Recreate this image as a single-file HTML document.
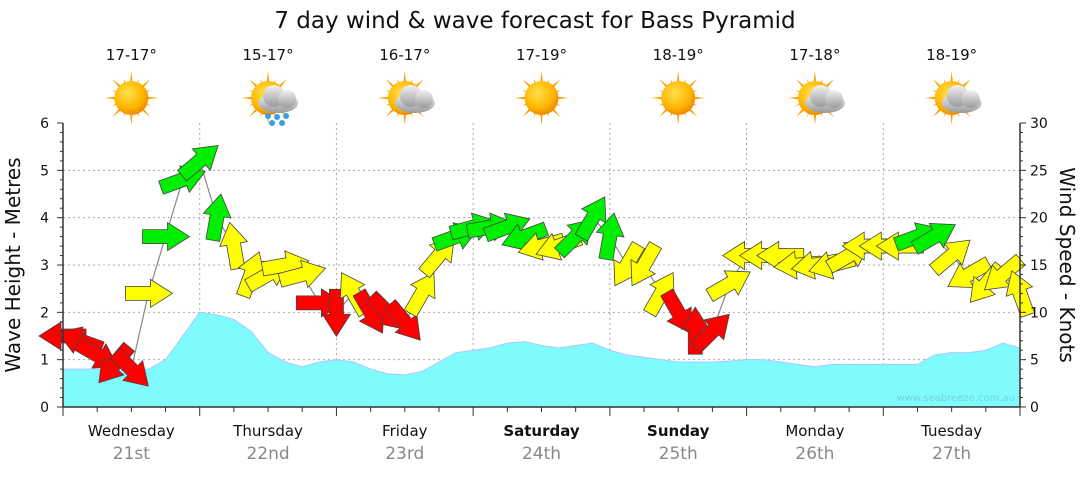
<!DOCTYPE html>
<html><head><meta charset="utf-8"><style>
body{margin:0;background:#fff;font-family:"Liberation Sans","DejaVu Sans",sans-serif;}
svg text{font-family:"DejaVu Sans","Liberation Sans",sans-serif;}
</style></head><body>
<svg id="chart" width="1080" height="475" xmlns="http://www.w3.org/2000/svg">
<defs>
<radialGradient id="sunG" cx="40%" cy="35%" r="65%"><stop offset="0" stop-color="#ffe14a"/><stop offset="0.7" stop-color="#ffb400"/><stop offset="1" stop-color="#f08c00"/></radialGradient>
<linearGradient id="cloudG" x1="0" y1="0" x2="0" y2="1"><stop offset="0" stop-color="#f2f2f2"/><stop offset="1" stop-color="#9a9a9a"/></linearGradient>
</defs>
<text x="535" y="28" text-anchor="middle" font-size="23" fill="#111">7 day wind &amp; wave forecast for Bass Pyramid</text>
<g id="grid"></g>
<g id="wave"></g>
<g id="wind"></g>
<g id="axes"></g>
<g id="topicons"></g>
<text x="1015" y="401" text-anchor="end" font-size="10" fill="#6cd6e0">www.seabreeze.com.au</text>
<text transform="translate(20,265) rotate(-90)" text-anchor="middle" font-size="20" fill="#111">Wave Height - Metres</text>
<text transform="translate(1060,265) rotate(90)" text-anchor="middle" font-size="20" fill="#111">Wind Speed - Knots</text>
</svg>
<script>
const days=["Wednesday","Thursday","Friday","Saturday","Sunday","Monday","Tuesday"];
const dates=["21st","22nd","23rd","24th","25th","26th","27th"];
const boldDays=[false,false,false,true,true,false,false];
const temps=["17-17°","15-17°","16-17°","17-19°","18-19°","17-18°","18-19°"];
const icons=["sun","rain","cloud","sun","sun","cloud","cloud"];
const waveTicks=[0,1,2,3,4,5,6];
const windTicks=[0,5,10,15,20,25,30];
const waveHeights=[0.8,0.8,0.8,0.78,0.78,0.8,1.0,1.5,2.0,1.95,1.85,1.6,1.15,0.95,0.85,0.95,1.0,0.95,0.8,0.7,0.68,0.75,0.95,1.15,1.2,1.25,1.35,1.38,1.3,1.25,1.3,1.35,1.2,1.1,1.05,1.0,0.95,0.95,0.95,0.97,1.0,1.0,0.95,0.9,0.85,0.9,0.9,0.9,0.9,0.9,0.9,1.1,1.15,1.15,1.2,1.35,1.25];
const windSpeeds=[7.5,7,5.5,4.5,4,12,18,24,26,20,17,14,14,15,14,11,10,12,10,10,9,12,16,18,19,19,19,18,17,17,18,20,18,15,15,12,10,8,8,13,16,16,16,15,15,15,16,17,17,17,18,18,16,14,13,14,12];
const windDirs=[180,200,30,130,45,0,0,-20,-40,-80,-100,-70,-30,-10,-15,0,90,-120,60,45,50,-60,-50,-20,-15,-10,-20,160,165,160,-45,-60,-80,120,120,-60,60,-90,-45,-30,180,180,180,175,170,165,-30,180,180,180,-20,-30,-40,150,130,140,-110];
const X0=63,X1=1020,Y0=407,Y1=123;
const dayW=(X1-X0)/7;
const xAt=i=>X0+i*(dayW/8);
const yWave=v=>Y0-(v/6)*(Y0-Y1);
const yWind=v=>Y0-(v/30)*(Y0-Y1);
const NS="http://www.w3.org/2000/svg";
function mk(tag,attrs,parent,txt){const e=document.createElementNS(NS,tag);for(const k in attrs)e.setAttribute(k,attrs[k]);if(txt!==undefined)e.textContent=txt;parent.appendChild(e);return e;}
const grid=document.getElementById('grid'),axes=document.getElementById('axes'),wave=document.getElementById('wave'),wind=document.getElementById('wind'),topG=document.getElementById('topicons');
waveTicks.forEach(t=>{if(t>0&&t<6){const l=mk('line',{x1:X0,x2:X1,y1:yWave(t),y2:yWave(t),stroke:'#aaa','stroke-dasharray':'2,3'},grid);

}});
for(let k=1;k<7;k++){const l=mk('line',{x1:X0+k*dayW,x2:X0+k*dayW,y1:Y1,y2:Y0,stroke:'#aaa','stroke-dasharray':'2,3'},grid);

}
let wp='M'+xAt(0)+','+Y0;waveHeights.forEach((v,i)=>{wp+=' L'+xAt(i)+','+yWave(v);});wp+=' L'+xAt(waveHeights.length-1)+','+Y0+' Z';
const wa=mk('path',{d:wp,fill:'#80fbfd',stroke:'#a9c8ff','stroke-width':1},wave);


let wl='';windSpeeds.forEach((v,i)=>{wl+=(i?' L':'M')+xAt(i)+','+yWind(v);});
const wline=mk('path',{d:wl,fill:'none',stroke:'#888','stroke-width':1.2},wind);


windSpeeds.forEach((v,i)=>{
 const col=v<11.5?'#ff0000':(v<17.5?'#ffff00':'#00ee00');
 const a=mk('polygon',{points:'-23,-7 2,-7 2,-14 24,0 2,14 2,7 -23,7',fill:col,stroke:'#444','stroke-width':0.8,transform:'translate('+xAt(i)+','+yWind(v)+') rotate('+windDirs[i]+')'},wind);
 
 
});
const la=mk('line',{x1:X0,x2:X0,y1:Y1,y2:Y0,stroke:'#333','stroke-width':1.5},axes);


const ra=mk('line',{x1:X1,x2:X1,y1:Y1,y2:Y0,stroke:'#333','stroke-width':1.5},axes);


const ba=mk('line',{x1:X0,x2:X1,y1:Y0,y2:Y0,stroke:'#333','stroke-width':1.5},axes);


for(let k=0;k<=30;k++){const y=Y0-k*(Y0-Y1)/30;mk('line',{x1:X0-(k%5?3:6),x2:X0,y1:y,y2:y,stroke:'#333'},axes);mk('line',{x1:X1,x2:X1+(k%5?3:6),y1:y,y2:y,stroke:'#333'},axes);}
waveTicks.forEach(t=>{const e=mk('text',{x:X0-14,y:yWave(t)+5,'text-anchor':'end','font-size':14,fill:'#111'},axes,t);

});
windTicks.forEach(t=>{const e=mk('text',{x:X1+10,y:yWind(t)+5,'text-anchor':'start','font-size':14,fill:'#111'},axes,t);

});
for(let q=0;q<=28;q++){const x=X0+q*dayW/4;mk('line',{x1:x,x2:x,y1:Y0,y2:Y0+(q%4?5:9),stroke:'#333'},axes);}
days.forEach((n,i)=>{const cx=X0+(i+0.5)*dayW;
 const t=mk('text',{x:cx,y:436,'text-anchor':'middle','font-size':15,fill:'#111','font-weight':boldDays[i]?'bold':'normal'},axes,n);
 
 
 const d2=mk('text',{x:cx,y:459,'text-anchor':'middle','font-size':17,fill:'#888'},axes,dates[i]);
 
 
 const tt=mk('text',{x:cx,y:60,'text-anchor':'middle','font-size':15,fill:'#111'},topG,temps[i]);
 
 
 const g=mk('g',{transform:'translate('+cx+',98)'},topG);
 
 
 for(let r=0;r<16;r++){const ang=r*22.5;const len=r%2?21:27;mk('polygon',{points:'-3,0 3,0 0,-'+len,fill:'#f5a000',transform:'rotate('+ang+')'},g);}
 mk('circle',{cx:0,cy:0,r:17,fill:'url(#sunG)'},g);
 if(icons[i]!=='sun'){mk('ellipse',{cx:10,cy:5,rx:20,ry:10,fill:'url(#cloudG)'},g);mk('circle',{cx:6,cy:-2,r:11,fill:'url(#cloudG)'},g);mk('circle',{cx:19,cy:1,r:9,fill:'url(#cloudG)'},g);}
 if(icons[i]==='rain'){[[0,18],[9,19],[18,18],[4,25],[14,25]].forEach(p=>mk('circle',{cx:p[0],cy:p[1],r:3,fill:'#3aa0e0'},g));}
});
</script>
</body></html>
